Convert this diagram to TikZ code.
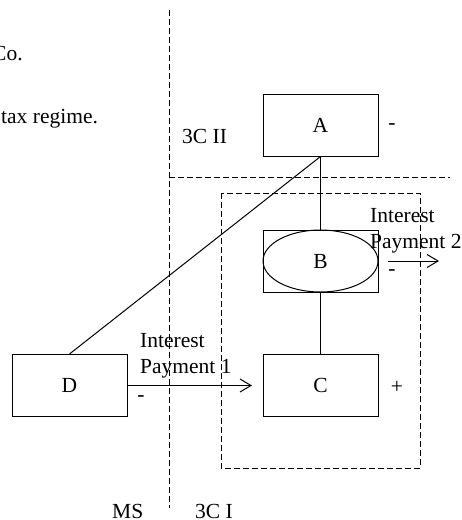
\documentclass[tikz,border=0pt]{standalone}
\usepackage{fontspec}
\setmainfont{Liberation Serif}
\usetikzlibrary{arrows.meta,shapes.geometric}
\begin{document}
\begin{tikzpicture}[x=1pt,y=-1pt,
  every node/.style={font=\fontsize{21.5}{26.5}\selectfont, inner sep=0pt},
  entity/.style={draw, line width=1pt, minimum width=115pt, minimum height=62pt},
  zone/.style={draw, line width=1pt, dash pattern=on 6pt off 3pt},
  link/.style={draw, line width=1pt},
  flow/.style={draw, line width=1pt, -{Straight Barb[length=11pt,width=13pt,line width=1pt]}},
  lbl/.style={anchor=base west}
]
\useasboundingbox (0,0) rectangle (462,520);
% zone borders
\coordinate (vtop) at (169,10);
\coordinate (vbot) at (169,508);
\coordinate (hl) at (169,177);
\coordinate (hr) at (450,177);
\draw[zone] (vtop) -- (vbot);
\draw[zone] (hl) -- (hr);
\draw[zone] (221,193) rectangle (420,468);
% entities
\node[entity] (A) at (320.5,125) {A};
\node[entity] (B) at (320.5,261) {B};
\node[draw, ellipse, line width=1pt, minimum width=115pt, minimum height=62pt] (Bell) at (320.5,261) {};
\node[entity] (C) at (320.5,385.5) {C};
\node[entity] (D) at (69.5,385.5) {D};
% connectors
\draw[link] (A.south) -- (B.north);
\draw[link] (B.south) -- (C.north);
\draw[link] (A.south) -- (D.north);
\coordinate (P1end) at (252,385.5);
\draw[flow] (D.east) -- (P1end);
\coordinate (P2a) at (388,261);
\coordinate (P2b) at (439,261);
\draw[flow] (P2a) -- (P2b);
% labels
\node[lbl] (tCo) at (-8,60) {Co.};
\node[lbl] (tTax) at (1,123) {tax regime.};
\node[lbl] (t3C2) at (182,143) {3C II};
\node[lbl] (tMS) at (112,518.5) {MS};
\node[lbl] (t3C1) at (195,518.5) {3C I};
\node[lbl, align=left] (ip1) at (140,373.5) {Interest\\Payment 1};
\node[lbl, align=left] (ip2) at (370,248.5) {Interest\\Payment 2};
\node (mA) at (392,127) {-};
\node (mB) at (392,273) {-};
\node (mC) at (397,387) {+};
\node (mD) at (141,399) {-};
\end{tikzpicture}
\end{document}
